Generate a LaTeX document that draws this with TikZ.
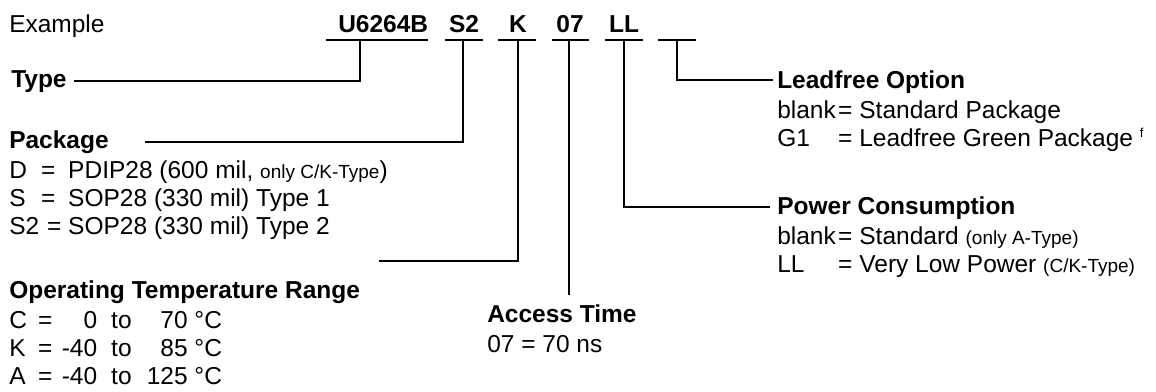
\documentclass[tikz,border=0pt]{standalone}
\usepackage{fontspec}
\setmainfont{Liberation Sans}
\usetikzlibrary{positioning}
\newcommand{\sml}[1]{{\fontsize{19}{20}\selectfont #1}}

\begin{document}
\begin{tikzpicture}
[x=1pt, y=-1pt, % one unit per pixel, y going down
line width=2.5pt, % line style
every node/.style={inner sep=0pt, anchor=base west, font=\fontsize{24.5}{28}\selectfont},
code/.style={font=\fontsize{24.5}{28}\selectfont\bfseries, anchor=base}]
\useasboundingbox (0,0) rectangle (1156,391);

% part number
\node (ex) at (8,32) {Example};
\node[code, anchor=base west] (cU) at (337,32) {U6264B};
\node[code] (cS2) at (464,32) {S2};
\node[code] (cK) at (518,32) {K};
\node[code] (c07) at (570,32) {07};
\node[code] (cLL) at (624,32) {LL};
\foreach \a/\b in {326/428,445/483,498/536,552/589,605/643,658/696}
  \draw (\a,40) -- (\b,40);
\coordinate (uU) at (360,40);
\coordinate (uS2) at (463,40);
\coordinate (uK) at (518,40);
\coordinate (u07) at (569,40);
\coordinate (uLL) at (624,40);
\coordinate (uLF) at (677,40);

% fields
\node (type) at (10,87) {\bfseries Type};
\node (pack) at (8,148) {\begin{tabular}[t]{@{}l@{}}
  \bfseries Package\\[2pt]
  \makebox[32pt][l]{D}\makebox[27pt][l]{=}PDIP28 (600 mil, \sml{only C/K-Type})\\
  \makebox[32pt][l]{S}\makebox[27pt][l]{=}SOP28 (330 mil) Type 1\\
  \makebox[38pt][l]{S2}\makebox[21pt][l]{=}SOP28 (330 mil) Type 2
  \end{tabular}};
\node (temp) at (8,298) {\begin{tabular}[t]{@{}l@{}}
  \bfseries Operating Temperature Range\\[2pt]
  \makebox[29pt][l]{C}\makebox[26pt][l]{=}\makebox[33pt][r]{0}\hspace{14pt}to\makebox[56pt][r]{70} °C\\
  \makebox[29pt][l]{K}\makebox[26pt][l]{=}\makebox[33pt][r]{-40}\hspace{14pt}to\makebox[56pt][r]{85} °C\\
  \makebox[29pt][l]{A}\makebox[26pt][l]{=}\makebox[33pt][r]{-40}\hspace{14pt}to\makebox[56pt][r]{125} °C
  \end{tabular}};
\node (acc) at (486,322) {\begin{tabular}[t]{@{}l@{}}
  \bfseries Access Time\\[2pt]
  07 = 70 ns
  \end{tabular}};
\node (lead) at (776,88) {\begin{tabular}[t]{@{}l@{}}
  \bfseries Leadfree Option\\[2pt]
  \makebox[61pt][l]{blank}= Standard Package\\
  \makebox[61pt][l]{G1}= Leadfree Green Package \raisebox{9pt}{\fontsize{13}{13}\selectfont f}
  \end{tabular}};
\node (pow) at (776,214) {\begin{tabular}[t]{@{}l@{}}
  \bfseries Power Consumption\\[2pt]
  \makebox[61pt][l]{blank}= Standard \sml{(only A-Type)}\\
  \makebox[61pt][l]{LL}= Very Low Power \sml{(C/K-Type)}
  \end{tabular}};

% connectors
\coordinate (eType) at (74,81);
\coordinate (ePack) at (145,142);
\coordinate (eTemp) at (379,261);
\coordinate (eAcc) at (569,295);
\coordinate (ePow) at (770,207);
\coordinate (eLead) at (773,80);
\draw (uU) |- (eType);
\draw (uS2) |- (ePack);
\draw (uK) |- (eTemp);
\draw (u07) -- (eAcc);
\draw (uLL) |- (ePow);
\draw (uLF) |- (eLead);
\end{tikzpicture}
\end{document}
